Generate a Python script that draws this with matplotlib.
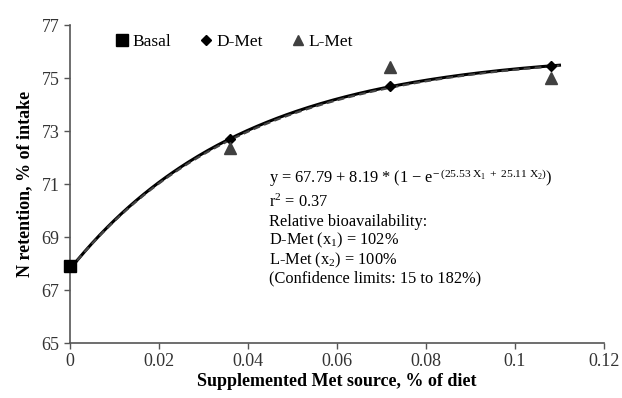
import numpy as np
import matplotlib
matplotlib.use("Agg")
import matplotlib.pyplot as plt

plt.rcParams['font.family'] = ['Liberation Serif', 'DejaVu Serif']
plt.rcParams['mathtext.fontset'] = 'custom'
plt.rcParams['mathtext.rm'] = 'Liberation Serif'
plt.rcParams['mathtext.it'] = 'Liberation Serif:italic'

# data
basal_x = [0.0]
basal_y = [67.9]
dmet_x = [0.036, 0.072, 0.108]
dmet_y = [72.7, 74.7, 75.45]
lmet_x = [0.036, 0.072, 0.108]
lmet_y = [72.35, 75.4, 75.0]

# fitted model parameters from the equation in the chart
a, b = 67.79, 8.19
k_d, k_l = 25.53, 25.11

fig = plt.figure(figsize=(6.22, 3.98), dpi=100)
ax = fig.add_axes([0.1125, 0.138, 0.8585, 0.799])

xs = np.linspace(0, 0.11, 200)
ax.plot(xs, a + b * (1 - np.exp(-k_d * xs)), color='black', lw=2.2, zorder=2)
ax.plot(xs, a + b * (1 - np.exp(-k_l * xs)), color='#444444', lw=1.6, ls=(0, (3, 2)), zorder=3)

ax.plot(basal_x, basal_y, 's', color='black', ms=9, clip_on=False, zorder=4, label='Basal')
ax.plot(dmet_x, dmet_y, 'D', color='black', ms=5.5, zorder=4, label='D-Met')
ax.plot(lmet_x, lmet_y, '^', color='#404040', ms=8, zorder=4, label='L-Met')

ax.set_xlim(0, 0.12)
ax.set_ylim(65, 77)
ax.set_xticks(np.arange(0, 0.121, 0.02))
ax.set_xticklabels(['0', '0.02', '0.04', '0.06', '0.08', '0.1', '0.12'])
ax.set_yticks(range(65, 78, 2))
ax.tick_params(labelsize=13, color='#555555', length=4, width=1, labelcolor='#333333')
for s in ['top', 'right']:
    ax.spines[s].set_visible(False)
for s in ['left', 'bottom']:
    ax.spines[s].set_color('#555555')
    ax.spines[s].set_linewidth(1.2)

ax.set_xlabel('Supplemented Met source, % of diet', fontsize=13, fontweight='bold', labelpad=2)
ax.set_ylabel('N retention, % of intake', fontsize=13, fontweight='bold', labelpad=6)

ax.legend(loc='center left', bbox_to_anchor=(0.078, 0.947), ncol=3, frameon=False,
          fontsize=12.5, handletextpad=0.0, columnspacing=1.4, handlelength=1.2,
          markerscale=0.9, borderpad=0, borderaxespad=0)

tx = 0.373
fs = 11.8
ax.text(tx, 0.519, r'y = 67.79 + 8.19 * (1 $-$ e$^{-\,(25.53\ \mathrm{X}_1\ +\ 25.11\ \mathrm{X}_2)}$)',
        transform=ax.transAxes, fontsize=fs, va='center')
ax.text(tx, 0.443, r'r$^2$ = 0.37', transform=ax.transAxes, fontsize=fs, va='center')
ax.text(tx, 0.381, 'Relative bioavailability:', transform=ax.transAxes, fontsize=fs, va='center')
ax.text(tx, 0.324, r'D-Met (x$_1$) = 102%', transform=ax.transAxes, fontsize=fs, va='center')
ax.text(tx, 0.261, r'L-Met (x$_2$) = 100%', transform=ax.transAxes, fontsize=fs, va='center')
ax.text(tx, 0.204, '(Confidence limits: 15 to 182%)', transform=ax.transAxes, fontsize=fs, va='center')

fig.savefig('out.png', dpi=100)
